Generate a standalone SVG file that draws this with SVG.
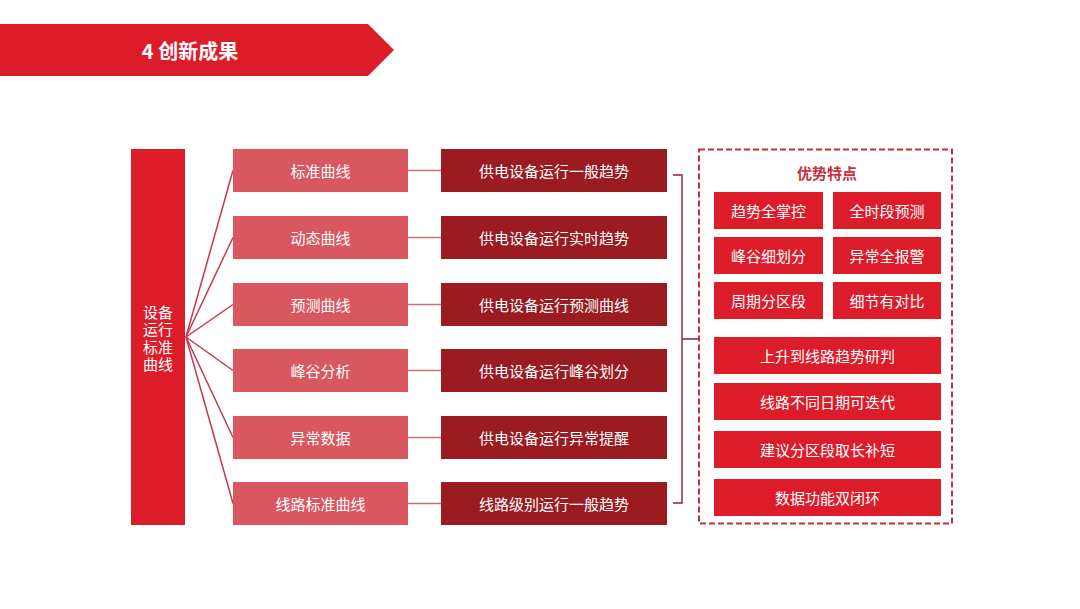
<svg xmlns="http://www.w3.org/2000/svg" width="1080" height="609" viewBox="0 0 1080 609">
<style>
text{font-family:"Noto Sans CJK SC","Noto Sans",sans-serif;fill:#fff;text-anchor:middle;dominant-baseline:central}
.t{font-size:15px}
.v{font-family:"Liberation Sans","Noto Sans CJK SC",sans-serif;font-size:15px;dominant-baseline:auto}
.pink{fill:#D9585F}
.dark{fill:#9A1B20}
.red{fill:#DD1C2A}
.fan{stroke:#C33A48;stroke-width:1.5;fill:none}
.link{stroke:#C9707A;stroke-width:1.4;fill:none}
.br{stroke:#8E2030;stroke-width:1.4;fill:none}
</style>
<rect width="1080" height="609" fill="#fff"/>
<g id="banner">
<polygon points="0,24 368,24 394,50 368,76 0,76" fill="#DD1C2A"/>
<text x="190" y="50" style="font-size:20px;font-weight:bold">4 创新成果</text>
</g>
<g id="connectors">
<line class="fan" x1="186" y1="337" x2="233" y2="170.5"/>
<line class="fan" x1="186" y1="337" x2="233" y2="237.5"/>
<line class="fan" x1="186" y1="337" x2="233" y2="304.5"/>
<line class="fan" x1="186" y1="337" x2="233" y2="370.5"/>
<line class="fan" x1="186" y1="337" x2="233" y2="437.5"/>
<line class="fan" x1="186" y1="337" x2="233" y2="503.5"/>
<line class="link" x1="408" y1="170.5" x2="441" y2="170.5"/>
<line class="link" x1="408" y1="237.5" x2="441" y2="237.5"/>
<line class="link" x1="408" y1="304.5" x2="441" y2="304.5"/>
<line class="link" x1="408" y1="370.5" x2="441" y2="370.5"/>
<line class="link" x1="408" y1="437.5" x2="441" y2="437.5"/>
<line class="link" x1="408" y1="503.5" x2="441" y2="503.5"/>
<path class="br" d="M673,175 H682 V503 H673 M682,339 H698"/>
</g>
<g id="root">
<rect x="131" y="149" width="54" height="376" class="red"/>
<text class="v" x="158" y="317.5">设备</text>
<text class="v" x="158" y="335">运行</text>
<text class="v" x="158" y="352.5">标准</text>
<text class="v" x="158" y="370">曲线</text>
</g>
<g id="n1"><rect x="233" y="149" width="175" height="43" class="pink"/><text x="320.5" y="170.5" class="t">标准曲线</text></g>
<g id="n2"><rect x="233" y="216" width="175" height="43" class="pink"/><text x="320.5" y="237.5" class="t">动态曲线</text></g>
<g id="n3"><rect x="233" y="283" width="175" height="43" class="pink"/><text x="320.5" y="304.5" class="t">预测曲线</text></g>
<g id="n4"><rect x="233" y="349" width="175" height="43" class="pink"/><text x="320.5" y="370.5" class="t">峰谷分析</text></g>
<g id="n5"><rect x="233" y="416" width="175" height="43" class="pink"/><text x="320.5" y="437.5" class="t">异常数据</text></g>
<g id="n6"><rect x="233" y="482" width="175" height="43" class="pink"/><text x="320.5" y="503.5" class="t">线路标准曲线</text></g>
<g id="d1"><rect x="441" y="149" width="226" height="43" class="dark"/><text x="554" y="170.5" class="t">供电设备运行一般趋势</text></g>
<g id="d2"><rect x="441" y="216" width="226" height="43" class="dark"/><text x="554" y="237.5" class="t">供电设备运行实时趋势</text></g>
<g id="d3"><rect x="441" y="283" width="226" height="43" class="dark"/><text x="554" y="304.5" class="t">供电设备运行预测曲线</text></g>
<g id="d4"><rect x="441" y="349" width="226" height="43" class="dark"/><text x="554" y="370.5" class="t">供电设备运行峰谷划分</text></g>
<g id="d5"><rect x="441" y="416" width="226" height="43" class="dark"/><text x="554" y="437.5" class="t">供电设备运行异常提醒</text></g>
<g id="d6"><rect x="441" y="482" width="226" height="43" class="dark"/><text x="554" y="503.5" class="t">线路级别运行一般趋势</text></g>
<g id="advantages">
<rect x="699" y="149.5" width="253" height="374" fill="none" stroke="#C8303C" stroke-width="2" stroke-dasharray="6 3"/>
<text x="827" y="172" style="font-size:15px;font-weight:bold;fill:#C8303C">优势特点</text>
</g>
<g id="a1"><rect x="714" y="192" width="109" height="37" class="red"/><text x="768.5" y="210.5" class="t">趋势全掌控</text></g>
<g id="a2"><rect x="833" y="192" width="108" height="37" class="red"/><text x="887" y="210.5" class="t">全时段预测</text></g>
<g id="a3"><rect x="714" y="237" width="109" height="37" class="red"/><text x="768.5" y="255.5" class="t">峰谷细划分</text></g>
<g id="a4"><rect x="833" y="237" width="108" height="37" class="red"/><text x="887" y="255.5" class="t">异常全报警</text></g>
<g id="a5"><rect x="714" y="282" width="109" height="37" class="red"/><text x="768.5" y="300.5" class="t">周期分区段</text></g>
<g id="a6"><rect x="833" y="282" width="108" height="37" class="red"/><text x="887" y="300.5" class="t">细节有对比</text></g>
<g id="b1"><rect x="714" y="337" width="227" height="37" class="red"/><text x="827.5" y="355.5" class="t">上升到线路趋势研判</text></g>
<g id="b2"><rect x="714" y="383" width="227" height="37" class="red"/><text x="827.5" y="401.5" class="t">线路不同日期可迭代</text></g>
<g id="b3"><rect x="714" y="431" width="227" height="37" class="red"/><text x="827.5" y="449.5" class="t">建议分区段取长补短</text></g>
<g id="b4"><rect x="714" y="479" width="227" height="37" class="red"/><text x="827.5" y="497.5" class="t">数据功能双闭环</text></g>
</svg>
